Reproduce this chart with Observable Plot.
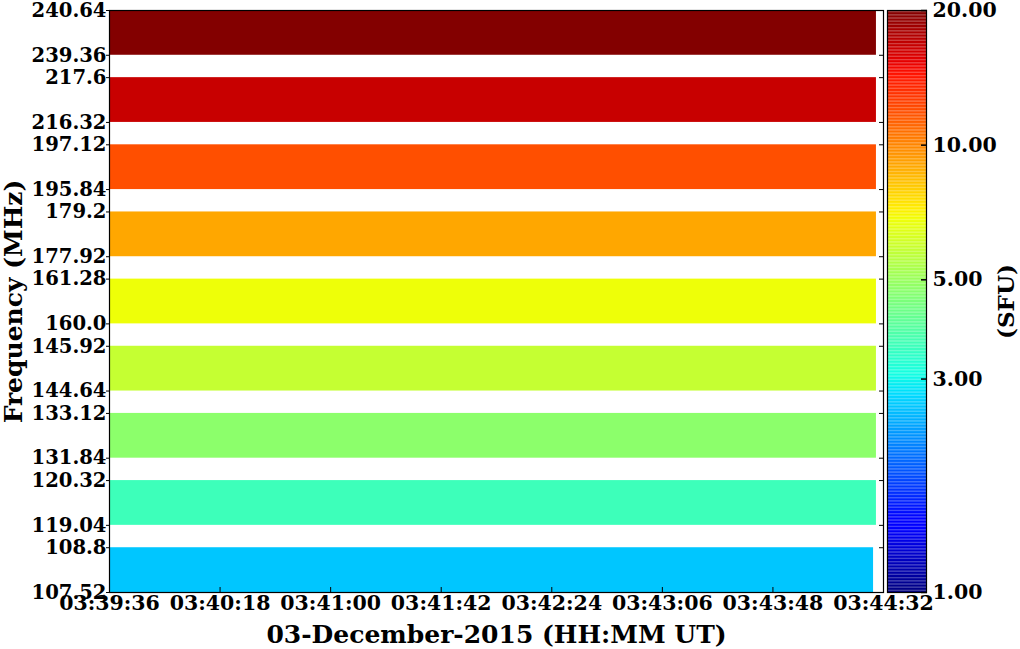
<!DOCTYPE html>
<html>
<head>
<meta charset="utf-8">
<script src="https://cdn.jsdelivr.net/npm/d3@7"></script>
<script src="https://cdn.jsdelivr.net/npm/@observablehq/plot@0.6"></script>
<style>
  html, body { margin: 0; padding: 0; background: #fff; }
  #wrap { position: relative; width: 1020px; height: 649px; }
  #wrap svg { position: absolute; left: 0; top: 0; }
</style>
</head>
<body>
<div id="wrap"></div>
<script>
// ---- data (bands listed from lowest to highest frequency) ----
const bandLowMHz   = [107.52, 119.04, 131.84, 144.64, 160.0, 177.92, 195.84, 216.32, 239.36];
const bandHighMHz  = [108.8, 120.32, 133.12, 145.92, 161.28, 179.2, 197.12, 217.6, 240.64];
const bandLowLabel = ["107.52", "119.04", "131.84", "144.64", "160.0", "177.92", "195.84", "216.32", "239.36"];
const bandHighLabel= ["108.8", "120.32", "133.12", "145.92", "161.28", "179.2", "197.12", "217.6", "240.64"];
const bandFluxSFU  = [2.6, 3.56, 4.75, 5.85, 6.8, 9.0, 11.9, 16.6, 19.8];
const bandEndSec   = [292.2, 293.3, 293.3, 293.3, 293.3, 293.3, 293.3, 293.3, 293.3];
const spanSec = 296; // 03:39:36 -> 03:44:32
const xTickLabels = ["03:39:36", "03:40:18", "03:41:00", "03:41:42", "03:42:24", "03:43:06", "03:43:48", "03:44:32"];
const cbarTicks = [1, 3, 5, 10, 20];

// matplotlib "jet" colormap
function jet(t) {
  t = Math.max(0, Math.min(1, t));
  const seg = (pts) => {
    for (let i = 1; i < pts.length; i++) {
      if (t <= pts[i][0]) {
        const [x0, y0] = pts[i - 1], [x1, y1] = pts[i];
        return y0 + (y1 - y0) * (t - x0) / (x1 - x0);
      }
    }
    return pts[pts.length - 1][1];
  };
  const r = seg([[0, 0], [0.35, 0], [0.66, 1], [0.89, 1], [1, 0.5]]);
  const g = seg([[0, 0], [0.125, 0], [0.375, 1], [0.64, 1], [0.91, 0], [1, 0]]);
  const b = seg([[0, 0.5], [0.11, 1], [0.34, 1], [0.65, 0], [1, 0]]);
  return `rgb(${Math.round(r * 255)},${Math.round(g * 255)},${Math.round(b * 255)})`;
}

// each band occupies one unit of the stacked axis, gaps of half a unit
const bands = bandLowMHz.map((lo, i) => ({
  lo, hi: bandHighMHz[i], y1: i * 1.5, y2: i * 1.5 + 1, sfu: bandFluxSFU[i], end: bandEndSec[i]
}));
const yTickLabel = new Map();
bands.forEach((b, i) => { yTickLabel.set(b.y1, bandLowLabel[i]); yTickLabel.set(b.y2, bandHighLabel[i]); });
const yTicks = [...yTickLabel.keys()];
const yMax = bands[bands.length - 1].y2;
const xTicks = xTickLabels.map((_, i) => i * spanSec / (xTickLabels.length - 1));
const xLabelOf = (d) => xTickLabels[Math.round(d * (xTickLabels.length - 1) / spanSec)];

const colorOpts = { type: "log", domain: [1, 20], interpolate: jet };
const baseStyle = { fontFamily: "DejaVu Serif", fontWeight: "bold", fontSize: "19.6px", color: "black", background: "transparent", overflow: "visible" };

const main = Plot.plot({
  width: 1020, height: 649,
  marginLeft: 109, marginRight: 137, marginTop: 10, marginBottom: 57,
  x: { domain: [0, spanSec] },
  y: { domain: [0, yMax] },
  color: colorOpts,
  style: baseStyle,
  marks: [
    Plot.rect(bands, { x1: 0, x2: "end", y1: "y1", y2: "y2", fill: "sfu" }),
    Plot.frame({ stroke: "black", strokeWidth: 1.2 }),
    Plot.axisY({ ticks: yTicks, tickSize: 3, tickPadding: 0, tickFormat: (d) => yTickLabel.get(d), label: null, stroke: "black" }),
    Plot.axisY({ anchor: "right", ticks: yTicks, tickSize: 5, dx: -5, tickFormat: () => "", label: null, stroke: "black" }),
    Plot.axisX({ ticks: xTicks, tickSize: 5, dy: -5, tickFormat: () => "", label: null, stroke: "black" }),
    Plot.axisX({ ticks: xTicks, tickSize: 0, tickPadding: 3, tickFormat: xLabelOf, label: null, fontSize: 20.5 }),
    Plot.text(["Frequency (MHz)"], { frameAnchor: "left", textAnchor: "middle", dx: -96, rotate: -90, fontSize: 25, fontWeight: "bold", lineAnchor: "middle" }),
    Plot.text(["03-December-2015 (HH:MM UT)"], { frameAnchor: "bottom", dy: 42, fontSize: 25, fontWeight: "bold", lineAnchor: "middle" })
  ]
});

// colorbar
const cbarEdges = d3.range(0, 401).map(i => Math.pow(20, i / 400));
const cbarSlices = cbarEdges.slice(0, -1).map((v, i) => ({ y1: v, y2: cbarEdges[i + 1], v: Math.sqrt(v * cbarEdges[i + 1]) }));
const cbar = Plot.plot({
  width: 1020, height: 649,
  marginLeft: 887, marginRight: 94, marginTop: 10, marginBottom: 57,
  x: { domain: [0, 1], axis: null },
  y: { type: "log", domain: [1, 20] },
  color: colorOpts,
  style: baseStyle,
  marks: [
    Plot.rect(cbarSlices, { x1: 0, x2: 1, y1: "y1", y2: "y2", fill: "v" }),
    Plot.frame({ stroke: "black", strokeWidth: 1.2 }),
    Plot.axisY({ anchor: "right", ticks: cbarTicks, tickSize: 6, dx: -6, tickFormat: () => "", label: null, stroke: "black", strokeWidth: 1.5 }),
    Plot.axisY({ anchor: "right", ticks: cbarTicks, tickSize: 0, tickPadding: 6, tickFormat: (d) => d.toFixed(2), label: null, fontSize: 20.5 }),
    Plot.text(["(SFU)"], { frameAnchor: "middle", dx: 100, rotate: -90, fontSize: 23, fontWeight: "bold", lineAnchor: "middle" })
  ]
});

const wrap = document.getElementById("wrap");
wrap.appendChild(main);
wrap.appendChild(cbar);
</script>
</body>
</html>
